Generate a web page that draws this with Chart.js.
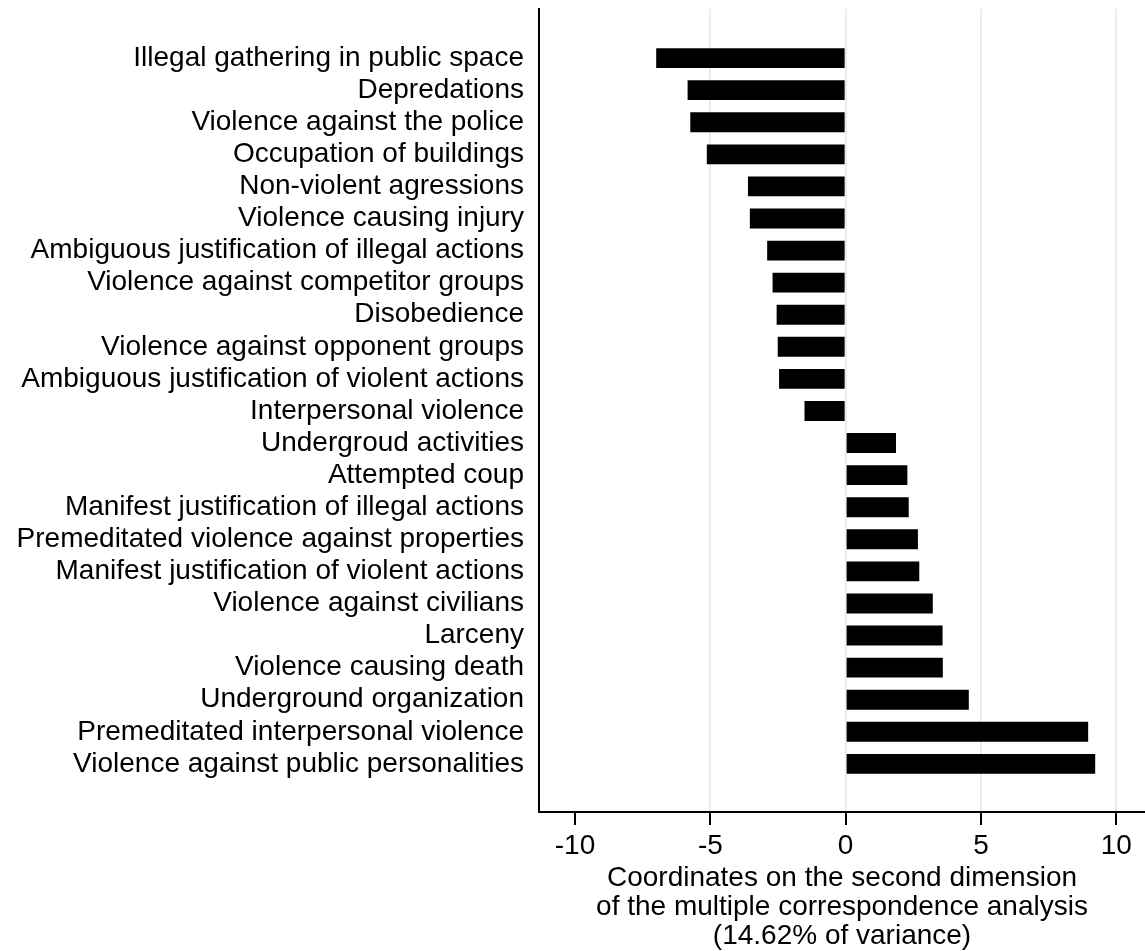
<!DOCTYPE html>
<html lang="en">
<head>
    <meta charset="UTF-8">
    <title>MCA second dimension</title>
    <script src="https://cdn.jsdelivr.net/npm/chart.js"></script>
    <style>
        html, body {
            margin: 0;
            padding: 0;
            background: #fff;
        }
        .chart-box {
            width: 1145px;
            height: 951px;
            position: relative;
        }
    </style>
</head>
<body>
    <div class="chart-box">
        <canvas id="mcaChart"></canvas>
    </div>
    <script>
        // categories, top to bottom
        const categories = [
            'Illegal gathering in public space',
            'Depredations',
            'Violence against the police',
            'Occupation of buildings',
            'Non-violent agressions',
            'Violence causing injury',
            'Ambiguous justification of illegal actions',
            'Violence against competitor groups',
            'Disobedience',
            'Violence against opponent groups',
            'Ambiguous justification of violent actions',
            'Interpersonal violence',
            'Undergroud activities',
            'Attempted coup',
            'Manifest justification of illegal actions',
            'Premeditated violence against properties',
            'Manifest justification of violent actions',
            'Violence against civilians',
            'Larceny',
            'Violence causing death',
            'Underground organization',
            'Premeditated interpersonal violence',
            'Violence against public personalities'
        ];

        // coordinates on the second dimension
        const coordinates = [
            -7.00, -5.84, -5.74, -5.13, -3.61, -3.54, -2.90, -2.70,
            -2.55, -2.51, -2.46, -1.52, 1.86, 2.28, 2.33, 2.67,
            2.72, 3.22, 3.58, 3.59, 4.55, 8.96, 9.22
        ];

        const xTicks = [-10, -5, 0, 5, 10];
        const xTitle = [
            'Coordinates on the second dimension',
            'of the multiple correspondence analysis',
            '(14.62% of variance)'
        ];

        const fontFamily = "'Liberation Sans', Arial, Helvetica, sans-serif";
        const gridColor = '#e5eef1';

        const points = coordinates.map((v, i) => ({ x: v, y: i }));

        const ctx = document.getElementById('mcaChart').getContext('2d');
        new Chart(ctx, {
            type: 'bar',
            data: {
                datasets: [{
                    data: points,
                    backgroundColor: '#000',
                    borderWidth: 0,
                    barPercentage: 0.62,
                    categoryPercentage: 1
                }]
            },
            options: {
                indexAxis: 'y',
                responsive: true,
                maintainAspectRatio: false,
                animation: false,
                layout: { padding: { top: 9, left: 0, right: 0, bottom: 0 } },
                plugins: {
                    legend: { display: false },
                    tooltip: { enabled: false }
                },
                scales: {
                    x: {
                        type: 'linear',
                        position: 'bottom',
                        bounds: 'data',
                        min: -11.33,
                        max: 11.06,
                        afterBuildTicks: axis => {
                            axis.min = -11.33;
                            axis.max = 11.06;
                            axis.ticks = xTicks.map(v => ({ value: v }));
                        },
                        afterFit: scale => {
                            scale.height = 139;
                            scale.paddingLeft = 0;
                            scale.paddingRight = 0;
                        },
                        border: { display: true, color: '#000', width: 2 },
                        grid: {
                            color: c => (c.tick && c.tick.value === xTicks[0]) ? 'rgba(0,0,0,0)' : gridColor,
                            lineWidth: 2,
                            drawTicks: true,
                            tickLength: 13,
                            tickColor: '#000',
                            tickWidth: 2
                        },
                        ticks: {
                            color: '#000',
                            padding: 4,
                            font: { family: fontFamily, size: 28 },
                            callback: v => String(v),
                            maxRotation: 0
                        },
                        title: {
                            display: true,
                            text: xTitle,
                            color: '#000',
                            font: { family: fontFamily, size: 28, lineHeight: 1.04 },
                            padding: { top: 0, bottom: 0 }
                        }
                    },
                    y: {
                        type: 'linear',
                        reverse: true,
                        offset: false,
                        bounds: 'data',
                        min: -1.53,
                        max: 23.5,
                        afterBuildTicks: axis => {
                            axis.min = -1.53;
                            axis.max = 23.5;
                            axis.ticks = categories.map((c, i) => ({ value: i }));
                        },
                        afterFit: scale => {
                            scale.width = 539;
                            scale.paddingTop = 0;
                            scale.paddingBottom = 0;
                        },
                        border: { display: true, color: '#000', width: 2 },
                        grid: { display: false, drawTicks: false, offset: false },
                        ticks: {
                            autoSkip: false,
                            color: '#000',
                            padding: 15,
                            font: { family: fontFamily, size: 28 },
                            callback: v => categories[v] ?? ''
                        }
                    }
                }
            }
        });
    </script>
</body>
</html>
